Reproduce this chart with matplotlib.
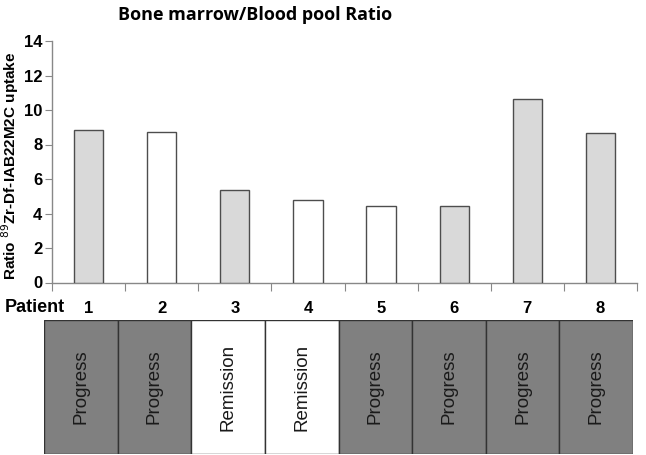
import matplotlib.pyplot as plt
from matplotlib.ticker import FixedLocator

# Datos
pacientes = ['1', '2', '3', '4', '5', '6', '7', '8']
ratio = [8.86, 8.7, 5.38, 4.78, 4.45, 4.45, 10.64, 8.65]
colores_barras = ['#d9d9d9', '#ffffff', '#d9d9d9', '#ffffff', '#ffffff', '#d9d9d9', '#d9d9d9', '#d9d9d9']
estado = ['Progress', 'Progress', 'Remission', 'Remission', 'Progress', 'Progress', 'Progress', 'Progress']
colores_estado = {'Progress': '#808080', 'Remission': '#ffffff'}

W, H = 646, 455
fig = plt.figure(figsize=(W / 100, H / 100), dpi=100)

# Ejes principales (en pixeles -> fraccion)
left, right, top, bottom = 52, 637, 41, 282.5
ax = fig.add_axes([left / W, (H - bottom) / H, (right - left) / W, (bottom - top) / H])
x = range(len(pacientes))
ax.bar([i + 0.5 for i in x], ratio, width=0.4, color=colores_barras,
       edgecolor='#4d4d4d', linewidth=1.0, zorder=3)
ax.set_xlim(0, len(pacientes))
ax.set_ylim(0, 14)
ax.set_yticks(range(0, 15, 2))
ax.set_yticklabels([str(v) for v in range(0, 15, 2)], fontsize=12,
                   fontweight='bold', family='Liberation Sans')
ax.xaxis.set_major_locator(FixedLocator(range(0, len(pacientes) + 1)))
ax.xaxis.set_minor_locator(FixedLocator([i + 0.5 for i in x]))
ax.set_xticklabels([], minor=False)
ax.set_xticklabels(pacientes, minor=True, fontsize=12, fontweight='bold',
                   family='Liberation Sans')
ax.tick_params(axis='x', which='major', direction='out', length=6, color='#888888')
ax.tick_params(axis='x', which='minor', length=0, pad=13)
ax.tick_params(axis='y', direction='out', length=5, color='#888888', pad=2)
for s in ['top', 'right']:
    ax.spines[s].set_visible(False)
for s in ['left', 'bottom']:
    ax.spines[s].set_color('#888888')
    ax.spines[s].set_linewidth(1.0)

fig.text(118 / W, 1 - 15 / H, 'Bone marrow/Blood pool Ratio', fontsize=13,
         fontweight='bold', family='Open Sans', ha='left', va='center')
fig.text(5 / W, 1 - 308 / H, 'Patient', fontsize=13, fontweight='bold',
         family='Liberation Sans', ha='left', va='center')
fig.text(16 / W, 1 - 280 / H, r'Ratio $^{89}$Zr-Df-IAB22M2C uptake', fontsize=11,
         fontweight='bold', family='Liberation Sans', rotation=90,
         rotation_mode='anchor', ha='left', va='baseline')

# Tabla de estado
tl, tr, tt, tb = 44, 633, 320, 454
axt = fig.add_axes([tl / W, (H - tb) / H, (tr - tl) / W, (tb - tt) / H])
axt.bar(list(x), [1] * len(estado), width=1, align='edge', bottom=0,
        color=[colores_estado[e] for e in estado], edgecolor='#333333', linewidth=1.0)
for i, e in enumerate(estado):
    axt.text(i + 0.5, 0.5, e, rotation=90, ha='center', va='center',
             fontsize=13.5, family='Liberation Sans', color='#1a1a1a')
axt.set_xlim(0, len(estado))
axt.set_ylim(0, 1)
axt.axis('off')

fig.savefig('out.png', dpi=100)
